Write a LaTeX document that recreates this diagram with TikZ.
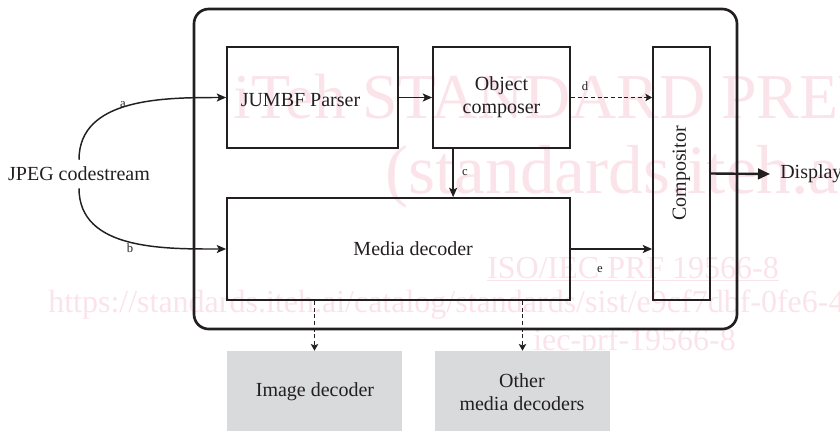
\documentclass[tikz,border=0pt]{standalone}
\usepackage{fontspec}
\setmainfont{Liberation Serif}
\usetikzlibrary{arrows.meta,fit}
\definecolor{wm}{RGB}{251,227,234}
\definecolor{boxgray}{RGB}{217,218,220}
\definecolor{ink}{RGB}{35,31,32}
\begin{document}
\begin{tikzpicture}[x=0.75pt,y=-0.75pt,
  box/.style={draw=ink, line width=1.3pt, inner sep=0pt},
  outerbox/.style={draw=ink, line width=2pt, rounded corners=11pt, inner sep=0pt},
  graybox/.style={fill=boxgray, inner sep=0pt},
  txt/.style={font=\fontsize{15}{17.5}\selectfont, text=ink, align=center},
  lbl/.style={font=\fontsize{9.5}{11}\selectfont, text=ink, inner sep=0pt},
  arr/.style={draw=ink, line width=1.1pt, -{Stealth[length=7pt,width=6pt,inset=1.5pt]}},
  darr/.style={draw=ink, line width=1.4pt, dash pattern=on 3pt off 2pt, -{Stealth[length=5pt,width=5.5pt,inset=1pt]}},
  wmtxt/.style={text=wm, anchor=base west, inner sep=0pt},
  wmbig/.style={wmtxt, font=\fontsize{48}{48}\selectfont},
  wmsmall/.style={wmtxt, font=\fontsize{24}{24}\selectfont}]
\useasboundingbox (0,0) rectangle (840,430);
% watermark
\begin{scope}
\clip (0,0) rectangle (840,430);
\node[wmbig] (wm1) at (233,118) {iTeh STANDARD PREVIEW};
\node[wmbig, font=\fontsize{52}{52}\selectfont] (wm2) at (385,193) {(standards.iteh.ai)};
\node[wmsmall] (wm3) at (487,278) {\underline{ISO/IEC PRF 19566-8}};
\node[wmsmall] (wm4) at (48,312) {https://standards.iteh.ai/catalog/standards/sist/e9cf7dbf-0fe6-4};
\node[wmsmall] (wm5) at (533,350) {iec-prf-19566-8};
\end{scope}
% boxes
\node[outerbox, fit={(194,9) (737,329)}] (sys) {};
\node[box, fit={(227,47) (398,148)}, label={[txt,xshift=-9pt,yshift=-2pt]center:JUMBF Parser}] (jumbf) {};
\node[box, fit={(433,47) (570,148)}, label={[txt]center:Object\\composer}] (obj) {};
\node[box, fit={(653,47) (710,300)}, label={[txt,rotate=90]center:Compositor}] (comp) {};
\node[box, fit={(227,198) (570,300)}, label={[txt,xshift=11pt]center:Media decoder}] (media) {};
\node[graybox, fit={(227,351) (402,432)}] (img) {};
\node[txt] (imgt) at (315,392) {Image decoder};
\node[graybox, fit={(435,351) (610,432)}] (oth) {};
\node[txt] (otht) at (522,392) {Other\\media decoders};
\node[txt, minimum height=21pt, inner sep=0pt] (jpeg) at (79,174) {JPEG codestream};
\node[txt, anchor=west, inner xsep=7.5pt, inner ysep=0pt] (disp) at (770,174) {Display};
% connectors
\draw[arr] (jpeg.north) .. controls +(0,-62) and +(-62,0) .. (jumbf.west);
\draw[arr] (jpeg.south) .. controls +(0,62) and +(-62,0) .. (media.west);
\node[lbl] (la) at (123,105) {a};
\node[lbl] (lb) at (130,248) {b};
\draw[arr] (jumbf.east) -- (obj.west);
\draw[darr] (obj.east) -- (obj.east -| comp.west);
\node[lbl] (ld) at (585,86) {d};
\draw[arr] ([xshift=15.75pt]obj.south west) -- ([xshift=15.75pt]obj.south west |- media.north);
\node[lbl] (lc) at (465,173) {c};
\draw[arr] (media.east) -- (media.east -| comp.west);
\node[lbl] (le) at (600,270) {e};
\draw[draw=ink, line width=1.8pt, -{Triangle[length=9pt,width=8pt]}] (comp.east) -- (disp.west);
\draw[darr] (img.north |- media.south) -- (img.north);
\draw[darr] (oth.north |- media.south) -- (oth.north);
\end{tikzpicture}
\end{document}
